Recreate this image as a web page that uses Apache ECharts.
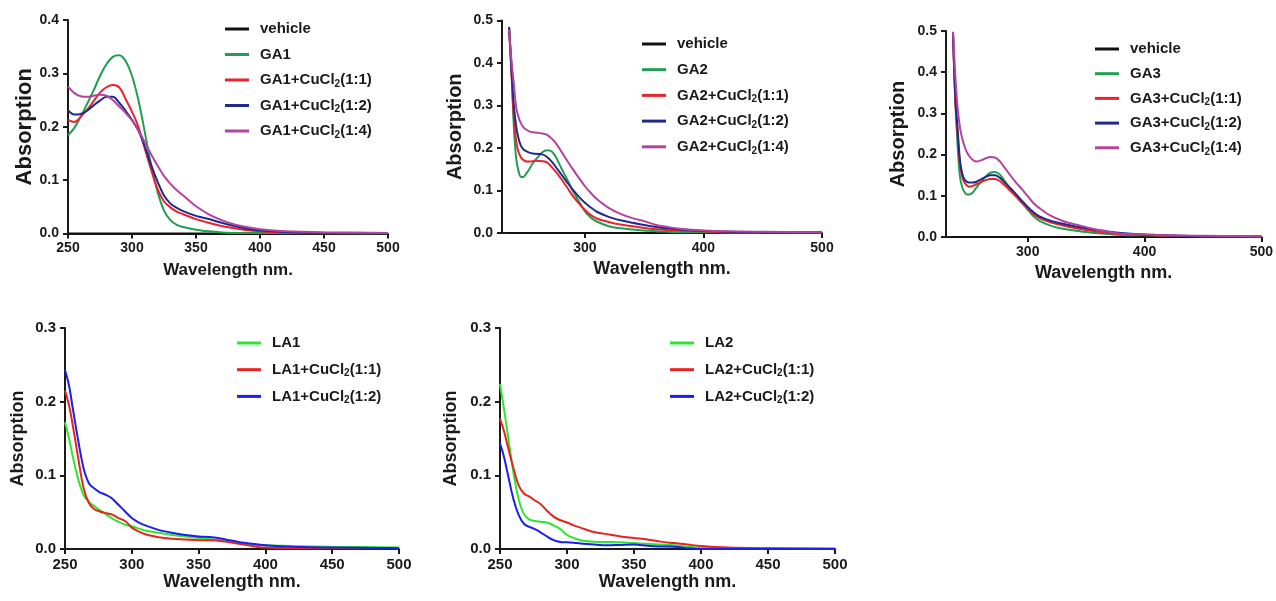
<!DOCTYPE html>
<html><head><meta charset="utf-8">
<script src="https://cdn.jsdelivr.net/npm/echarts@6/dist/echarts.min.js"></script>
<style>html,body{margin:0;padding:0;background:#fff}#c{width:1276px;height:601px}</style>
</head><body><div id="c"></div>
<script>
// ---------- DATA ----------
const wlGA1 = [250,255,260,265,270,275,280,285,290,295,300,305,310,315,320,325,330,335,340,350,360,370,380,390,400,420,450,500];
const ga1Vehicle = [0,0,0,0,0,0,0,0,0,0,0,0,0,0,0,0,0,0,0,0,0,0,0,0,0,0,0,0];
const ga1 =      [0.184,0.198,0.219,0.243,0.268,0.295,0.317,0.331,0.334,0.323,0.295,0.250,0.190,0.128,0.078,0.043,0.025,0.016,0.012,0.007,0.004,0.002,0.001,0.001,0.001,0.0005,0.0003,0];
const ga1Cu11 =  [0.213,0.209,0.219,0.232,0.248,0.264,0.274,0.278,0.274,0.252,0.228,0.200,0.159,0.119,0.083,0.060,0.049,0.041,0.036,0.027,0.020,0.014,0.010,0.006,0.004,0.002,0.001,0.001];
const ga1Cu12 =  [0.231,0.223,0.224,0.230,0.240,0.249,0.256,0.256,0.245,0.230,0.213,0.193,0.163,0.128,0.097,0.071,0.056,0.048,0.042,0.033,0.027,0.020,0.014,0.009,0.006,0.003,0.0015,0.001];
const ga1Cu14 =  [0.275,0.263,0.257,0.256,0.258,0.260,0.258,0.250,0.238,0.226,0.212,0.193,0.171,0.148,0.127,0.108,0.093,0.081,0.071,0.051,0.036,0.025,0.017,0.012,0.008,0.004,0.002,0.001];

const wlGA23 = [236,238,240,242,244,246,248,250,253,256,260,264,268,272,276,280,285,290,295,300,305,310,320,330,340,350,360,370,380,400,420,450,500];
const ga2Vehicle = [0,0,0,0,0,0,0,0,0,0,0,0,0,0,0,0,0,0,0,0,0,0,0,0,0,0,0,0,0,0,0,0,0];
const ga2 =      [0.482,0.390,0.250,0.175,0.145,0.132,0.132,0.138,0.150,0.164,0.178,0.190,0.195,0.192,0.176,0.153,0.126,0.098,0.074,0.051,0.036,0.027,0.016,0.011,0.008,0.006,0.004,0.003,0.002,0.002,0.001,0.001,0.001];
const ga2Cu11 =  [0.478,0.375,0.270,0.215,0.190,0.178,0.172,0.169,0.168,0.169,0.170,0.169,0.166,0.155,0.142,0.127,0.107,0.086,0.069,0.054,0.042,0.034,0.026,0.020,0.016,0.012,0.009,0.007,0.005,0.004,0.002,0.002,0.001];
const ga2Cu12 =  [0.485,0.385,0.300,0.250,0.222,0.205,0.197,0.193,0.189,0.187,0.186,0.185,0.179,0.168,0.153,0.138,0.119,0.101,0.085,0.071,0.060,0.050,0.038,0.030,0.024,0.019,0.014,0.011,0.008,0.005,0.003,0.002,0.001];
const ga2Cu14 =  [0.478,0.405,0.350,0.295,0.272,0.258,0.249,0.244,0.239,0.237,0.236,0.234,0.231,0.222,0.209,0.192,0.170,0.149,0.129,0.110,0.094,0.080,0.059,0.045,0.035,0.028,0.019,0.014,0.010,0.006,0.004,0.003,0.002];

const ga3Vehicle = [0,0,0,0,0,0,0,0,0,0,0,0,0,0,0,0,0,0,0,0,0,0,0,0,0,0,0,0,0,0,0,0,0];
const ga3 =      [0.495,0.330,0.220,0.145,0.120,0.108,0.103,0.103,0.108,0.120,0.134,0.147,0.156,0.158,0.152,0.137,0.117,0.100,0.084,0.066,0.050,0.039,0.027,0.020,0.016,0.012,0.009,0.007,0.005,0.004,0.003,0.002,0.001];
const ga3Cu11 =  [0.495,0.330,0.245,0.175,0.145,0.131,0.125,0.122,0.124,0.128,0.133,0.138,0.141,0.141,0.136,0.126,0.112,0.098,0.083,0.069,0.055,0.046,0.035,0.028,0.022,0.017,0.013,0.009,0.007,0.005,0.003,0.002,0.001];
const ga3Cu12 =  [0.495,0.340,0.260,0.185,0.153,0.139,0.134,0.132,0.132,0.134,0.140,0.146,0.150,0.150,0.144,0.133,0.119,0.104,0.088,0.073,0.060,0.050,0.039,0.032,0.026,0.021,0.017,0.013,0.010,0.006,0.004,0.002,0.001];
const ga3Cu14 =  [0.498,0.390,0.312,0.265,0.238,0.219,0.205,0.196,0.187,0.183,0.186,0.191,0.194,0.193,0.184,0.169,0.150,0.132,0.116,0.099,0.082,0.070,0.051,0.039,0.031,0.024,0.017,0.012,0.008,0.006,0.004,0.003,0.002];

const wlLA = [250,253,256,260,264,268,272,276,280,285,290,295,300,305,310,320,330,340,350,360,370,380,390,400,420,450,500];
const la1 =      [0.172,0.150,0.124,0.094,0.073,0.064,0.058,0.053,0.048,0.042,0.037,0.033,0.031,0.028,0.025,0.022,0.019,0.017,0.015,0.013,0.011,0.008,0.006,0.005,0.004,0.003,0.002];
const la1Cu11 =  [0.215,0.195,0.166,0.122,0.082,0.062,0.054,0.051,0.049,0.047,0.042,0.038,0.029,0.024,0.020,0.016,0.014,0.013,0.012,0.012,0.010,0.007,0.004,0.002,0.001,0.001,0.001];
const la1Cu12 =  [0.243,0.222,0.189,0.146,0.109,0.089,0.082,0.077,0.074,0.069,0.060,0.051,0.042,0.036,0.032,0.026,0.022,0.019,0.017,0.016,0.013,0.0095,0.007,0.005,0.003,0.002,0.001];
const la2 =      [0.224,0.190,0.153,0.104,0.067,0.047,0.040,0.038,0.037,0.036,0.032,0.027,0.019,0.015,0.012,0.010,0.0095,0.009,0.008,0.007,0.006,0.005,0.003,0.002,0.001,0.001,0.001];
const la2Cu11 =  [0.177,0.160,0.138,0.110,0.086,0.075,0.071,0.066,0.0615,0.052,0.044,0.039,0.036,0.032,0.029,0.023,0.020,0.017,0.015,0.013,0.010,0.008,0.006,0.004,0.002,0.001,0];
const la2Cu12 =  [0.143,0.125,0.100,0.068,0.046,0.034,0.030,0.027,0.023,0.017,0.012,0.0095,0.009,0.0086,0.0075,0.006,0.005,0.0055,0.006,0.0045,0.0035,0.003,0.001,0,0,0,0];

const xTicksFull = [250,300,350,400,450,500];
const xTicksGA23 = [300,400,500];

// ---------- BUILD ----------
const FONT = 'Liberation Sans, Arial, sans-serif';
const INK = '#1a1a1a';
const C = {veh:'#111111', g:'#1f9e50', r:'#e8232b', b:'#1f2b8c', m:'#b5429c', lg:'#2ee62e', lr:'#e8231d', lb:'#1b1ef0'};

const panels = [
  {grid:{left:68,top:20,width:320,height:213.5}, xmin:250, xticks:xTicksFull, ymax:0.4, tick:14, yName:22, yGap:28, xName:17, xGap:28,
   wl:wlGA1, legend:{left:225,top:20,gap:7.5},
   series:[['vehicle',ga1Vehicle,C.veh],['GA1',ga1,C.g],['GA1+CuCl2(1:1)',ga1Cu11,C.r],['GA1+CuCl2(1:2)',ga1Cu12,C.b],['GA1+CuCl2(1:4)',ga1Cu14,C.m]]},
  {grid:{left:502,top:20.5,width:320,height:212.5}, xmin:230, xticks:xTicksGA23, ymax:0.5, tick:14, yName:20, yGap:37, xName:18, xGap:27,
   wl:wlGA23, legend:{left:642,top:35,gap:7.7},
   series:[['vehicle',ga2Vehicle,C.veh],['GA2',ga2,C.g],['GA2+CuCl2(1:1)',ga2Cu11,C.r],['GA2+CuCl2(1:2)',ga2Cu12,C.b],['GA2+CuCl2(1:4)',ga2Cu14,C.m]]},
  {grid:{left:946,top:31,width:317,height:206}, xmin:230, xticks:xTicksGA23, ymax:0.5, tick:14, yName:20, yGap:38, xName:18, xGap:27,
   wl:wlGA23, legend:{left:1095,top:40,gap:6.7},
   series:[['vehicle',ga3Vehicle,C.veh],['GA3',ga3,C.g],['GA3+CuCl2(1:1)',ga3Cu11,C.r],['GA3+CuCl2(1:2)',ga3Cu12,C.b],['GA3+CuCl2(1:4)',ga3Cu14,C.m]]},
  {grid:{left:65,top:328,width:334,height:221}, xmin:250, xticks:xTicksFull, ymax:0.3, tick:15, yName:18, yGap:38, xName:18, xGap:22,
   wl:wlLA, legend:{left:237,top:334,gap:8.7},
   series:[['LA1',la1,C.lg],['LA1+CuCl2(1:1)',la1Cu11,C.lr],['LA1+CuCl2(1:2)',la1Cu12,C.lb]]},
  {grid:{left:500,top:328,width:335,height:221}, xmin:250, xticks:xTicksFull, ymax:0.3, tick:15, yName:18, yGap:40, xName:18, xGap:22,
   wl:wlLA, legend:{left:670,top:334,gap:8.7},
   series:[['LA2',la2,C.lg],['LA2+CuCl2(1:1)',la2Cu11,C.lr],['LA2+CuCl2(1:2)',la2Cu12,C.lb]]}
];

const option = {animation:false, backgroundColor:'#fff', grid:[], xAxis:[], yAxis:[], series:[], legend:[]};
const axisLine = {show:true, onZero:false, lineStyle:{color:INK, width:2}};
const axisTick = {show:true, length:5, lineStyle:{color:INK, width:2}};

function richName(n){
  const i = n.indexOf('CuCl2');
  if (i < 0) return '{n|' + n + '}';
  return '{n|' + n.slice(0, i + 4) + '}{s|2}{n|' + n.slice(i + 5) + '}';
}

panels.forEach((p, k) => {
  option.grid.push(Object.assign({containLabel:false}, p.grid));
  const custom = p.xmin !== p.xticks[0];
  const xa = {
    type:'value', gridIndex:k, min:p.xmin, max:500,
    name:'Wavelength nm.', nameLocation:'middle', nameGap:p.xGap,
    nameTextStyle:{fontFamily:FONT, fontWeight:'bold', fontSize:p.xName, color:INK},
    axisLine, splitLine:{show:false},
    axisLabel:{fontFamily:FONT, fontWeight:'bold', fontSize:p.tick, color:INK, margin:8},
    axisTick:Object.assign({}, axisTick)
  };
  if (custom) {
    xa.axisLabel.customValues = p.xticks;
    xa.axisTick.customValues = p.xticks;
  } else {
    xa.interval = 50;
  }
  option.xAxis.push(xa);
  option.yAxis.push({
    type:'value', gridIndex:k, min:0, max:p.ymax, interval:0.1,
    name:'Absorption', nameLocation:'middle', nameGap:p.yGap,
    nameTextStyle:{fontFamily:FONT, fontWeight:'bold', fontSize:p.yName, color:INK},
    axisLine, axisTick, splitLine:{show:false},
    axisLabel:{fontFamily:FONT, fontWeight:'bold', fontSize:p.tick, color:INK, margin:9, formatter:v => v.toFixed(1)}
  });
  const names = [];
  p.series.forEach(([name, ys, color]) => {
    names.push(name);
    option.series.push({
      type:'line', name, xAxisIndex:k, yAxisIndex:k, color,
      showSymbol:false, smooth:0.35,
      lineStyle:{width:2, color}, emphasis:{disabled:true},
      data:p.wl.map((w, i) => [w, ys[i]])
    });
  });
  option.legend.push({
    orient:'vertical', left:p.legend.left, top:p.legend.top, padding:0,
    itemGap:p.legend.gap, itemWidth:24, itemHeight:3, icon:'rect',
    data:names, selectedMode:false,
    formatter:richName,
    textStyle:{fontFamily:FONT, fontWeight:'bold', fontSize:15, color:INK, lineHeight:18, padding:[0,0,0,6],
      rich:{
        n:{fontFamily:FONT, fontWeight:'bold', fontSize:15, color:INK, lineHeight:18},
        s:{fontFamily:FONT, fontWeight:'bold', fontSize:10, color:INK, lineHeight:11, verticalAlign:'bottom'}
      }}
  });
});

const chart = echarts.init(document.getElementById('c'), null, {renderer:'canvas'});
chart.setOption(option);
</script></body></html>
